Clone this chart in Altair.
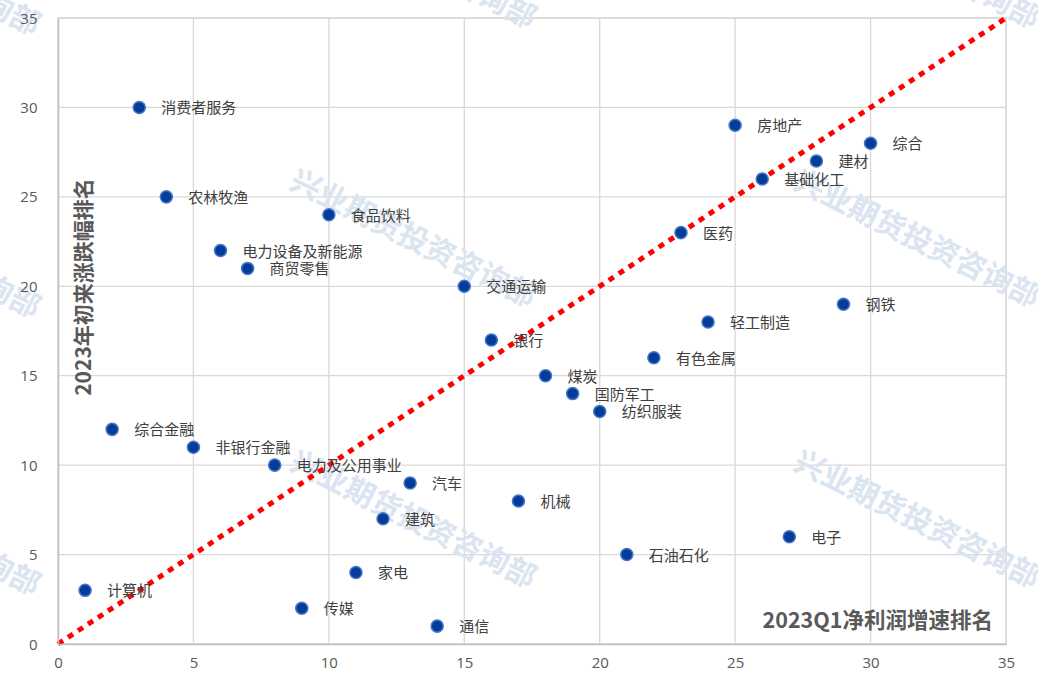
import altair as alt
import pandas as pd

# Industry names, x = 2023Q1 net profit growth rank, y = YTD return rank
names = ["消费者服务", "农林牧渔", "电力设备及新能源", "商贸零售", "食品饮料", "交通运输",
         "银行", "煤炭", "国防军工", "纺织服装", "有色金属", "轻工制造", "医药", "房地产",
         "基础化工", "建材", "综合", "钢铁", "综合金融", "非银行金融", "电力及公用事业",
         "汽车", "机械", "建筑", "石油石化", "电子", "计算机", "家电", "传媒", "通信"]
x_rank = [3, 4, 6, 7, 10, 15, 16, 18, 19, 20, 22, 24, 23, 25, 26, 28, 30, 29, 2, 5, 8,
          13, 17, 12, 21, 27, 1, 11, 9, 14]
y_rank = [30, 25, 22, 21, 24, 20, 17, 15, 14, 13, 16, 18, 23, 29, 26, 27, 28, 19, 12, 11, 10,
          9, 8, 7, 5, 6, 3, 4, 2, 1]

# diagonal reference line
diag_x = [0, 35]
diag_y = [0, 35]

ticks = [0, 5, 10, 15, 20, 25, 30, 35]

# watermark tiles (data coordinates)
wm_text = "兴业期货投资咨询部"
wm_x = [-5.2, 13.1, 31.7, -5.2, 13.1, 31.7, -5.2, 13.1, 31.7]
wm_y = [37.8, 38.2, 38.2, 22.0, 22.6, 22.6, 6.5, 6.9, 6.9]

x_title = "2023Q1净利润增速排名"
y_title = "2023年初来涨跌幅排名"

df = pd.DataFrame({"name": names, "x": x_rank, "y": y_rank})
diag = pd.DataFrame({"x": diag_x, "y": diag_y})
wm = pd.DataFrame({"x": wm_x, "y": wm_y, "t": [wm_text] * len(wm_x)})
tk = pd.DataFrame({"v": ticks})

xs = alt.Scale(domain=[0, 35], nice=False, zero=False)
ys = alt.Scale(domain=[0, 35], nice=False, zero=False)

xaxis = alt.Axis(values=ticks, title=None, ticks=False, grid=False, domainColor="#bfbfbf",
                 domainWidth=1.5, labelFont="Open Sans", labelFontSize=15,
                 labelColor="#595959", labelPadding=11, labelFlush=False, zindex=1)
yaxis = alt.Axis(values=ticks, title=None, ticks=False, grid=False, domainColor="#bfbfbf",
                 domainWidth=1.5, labelFont="Open Sans", labelFontSize=15,
                 labelColor="#595959", labelPadding=21, labelFlush=False, zindex=1)

base_axes = alt.Chart(df).mark_point(opacity=0).encode(
    x=alt.X("x:Q", scale=xs, axis=xaxis),
    y=alt.Y("y:Q", scale=ys, axis=yaxis),
)

grid_v = alt.Chart(tk).mark_rule(color="#d9d9d9", strokeWidth=1.3).encode(
    x=alt.X("v:Q", scale=xs))
grid_h = alt.Chart(tk).mark_rule(color="#d9d9d9", strokeWidth=1.3).encode(
    y=alt.Y("v:Q", scale=ys))

watermark = alt.Chart(wm).mark_text(
    font="Noto Sans CJK SC", fontSize=30, fontWeight="bold", color="#dbe4f1",
    angle=26.5, align="center", baseline="middle"
).encode(x=alt.X("x:Q", scale=xs), y=alt.Y("y:Q", scale=ys), text="t:N")

line = alt.Chart(diag).mark_line(
    color="#ff0000", strokeWidth=5, strokeDash=[6, 6], strokeCap="butt"
).encode(x=alt.X("x:Q", scale=xs), y=alt.Y("y:Q", scale=ys))

points = alt.Chart(df).mark_circle(
    size=145, color="#033d99", opacity=1, stroke="#4676c8", strokeWidth=1.5
).encode(x=alt.X("x:Q", scale=xs), y=alt.Y("y:Q", scale=ys))

labels = alt.Chart(df).mark_text(
    font="Noto Sans CJK SC", fontSize=15, color="#404040", align="left",
    baseline="middle", dx=22, dy=1
).encode(x=alt.X("x:Q", scale=xs), y=alt.Y("y:Q", scale=ys), text="name:N")

xt = alt.Chart(pd.DataFrame({"t": [x_title]})).mark_text(
    font="Noto Sans CJK SC", fontSize=21.5, fontWeight="bold", color="#595959",
    align="right", baseline="middle"
).encode(x=alt.value(935), y=alt.value(604), text="t:N")

yt = alt.Chart(pd.DataFrame({"t": [y_title]})).mark_text(
    font="Noto Sans CJK SC", fontSize=21, fontWeight="bold", color="#595959",
    align="center", baseline="middle", angle=270
).encode(x=alt.value(27), y=alt.value(269), text="t:N")

chart = alt.layer(grid_v, grid_h, watermark, base_axes, line, points, labels, xt, yt).properties(
    width=948, height=626,
    autosize=alt.AutoSizeParams(type="none"),
    padding={"left": 58, "top": 18, "right": 32, "bottom": 34},
    background="white",
).configure_view(stroke="#d9d9d9", strokeWidth=1.3)

chart.save("out.html", embed_options={"renderer": "svg", "actions": False})
